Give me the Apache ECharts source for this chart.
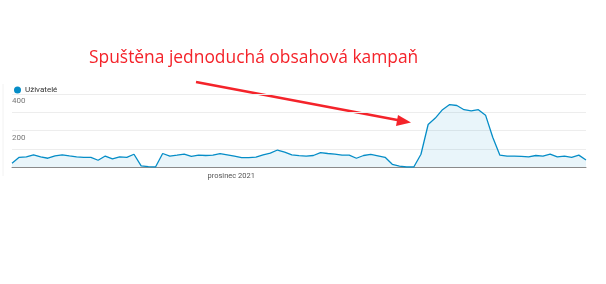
<!DOCTYPE html>
<html>
<head>
<meta charset="utf-8">
<script src="https://cdn.jsdelivr.net/npm/echarts@6/dist/echarts.min.js"></script>
<style>
html,body{margin:0;padding:0;background:#fff;}
#chart{width:606px;height:284px;}
</style>
</head>
<body>
<div id="chart"></div>
<script>
// Daily users, 1 Nov 2021 – 20 Jan 2022
var startDate = '2021-11-01';
var users = [20,53,56,67,56,48,61,67,61,56,53,53,37,60,44,56,53,70,6,2,0,74,60,65,71,58,65,63,65,73,67,60,51,51,54,67,76,93,82,67,62,60,63,79,74,71,65,65,48,63,69,61,53,15,5,0,0,70,233,268,314,342,337,314,307,314,284,163,65,60,60,58,55,63,60,71,56,60,53,65,38];
var seriesName = 'Uživatelé';
var monthLabels = {'2021-12-01': 'prosinec 2021'};
var yTickLabels = {200: '200', 400: '400'};
var annotationText = 'Spuštěna jednoduchá obsahová kampaň';

var dates = [];
(function(){
  var d = new Date(startDate + 'T00:00:00Z');
  for (var i = 0; i < users.length; i++) {
    var dd = new Date(d.getTime() + i * 86400000);
    dates.push(dd.toISOString().slice(0,10));
  }
})();

var chart = echarts.init(document.getElementById('chart'), null, {renderer: 'canvas'});
chart.setOption({
  animation: false,
  backgroundColor: '#fff',
  textStyle: {fontFamily: 'Roboto, Arial, sans-serif'},
  legend: {
    left: 9, top: 81,
    icon: 'circle', itemWidth: 7, itemHeight: 7, itemGap: 4,
    textStyle: {fontSize: 8, color: '#333', padding: [0,0,0,-1]},
    data: [seriesName]
  },
  grid: {left: 12, right: 20, top: 94, bottom: 117, containLabel: false},
  xAxis: {
    type: 'category', data: dates, boundaryGap: false,
    axisLine: {lineStyle: {color: '#8a8a8a', width: 1}},
    axisTick: {show: false},
    axisLabel: {
      interval: 0, fontSize: 7.5, color: '#555', margin: 5, padding: [0,0,0,8],
      formatter: function(v){ return monthLabels[v] || ''; }
    },
    splitLine: {show: false}
  },
  yAxis: {
    type: 'value', min: 0, max: 400, interval: 100,
    axisLine: {show: false}, axisTick: {show: false},
    axisLabel: {
      inside: true, margin: 0, verticalAlign: 'top', fontSize: 8, color: '#777',
      padding: [3,0,0,0], showMinLabel: false,
      formatter: function(v){ return yTickLabels[v] || ''; }
    },
    splitLine: {lineStyle: {color: '#ededed', width: 1}}
  },
  series: [{
    name: seriesName, type: 'line', data: users,
    symbol: 'none', smooth: false,
    lineStyle: {color: '#058dc7', width: 1.3},
    itemStyle: {color: '#058dc7'},
    areaStyle: {color: 'rgba(5,141,199,0.12)'}
  }],
  graphic: [
    {type: 'line', shape: {x1: 3, y1: 84, x2: 3, y2: 176}, style: {stroke: '#f2f2f2', lineWidth: 1}},
    {type: 'text', left: 89, top: 50, style: {text: annotationText, fill: '#f4232a', font: '17.4px "Open Sans", sans-serif'}},
    {type: 'line', shape: {x1: 196, y1: 82, x2: 400, y2: 120.5}, style: {stroke: '#f4232a', lineWidth: 2.6}},
    {type: 'polygon', shape: {points: [[411, 122.5], [398, 115], [396, 126]]}, style: {fill: '#f4232a'}}
  ]
});
</script>
</body>
</html>
